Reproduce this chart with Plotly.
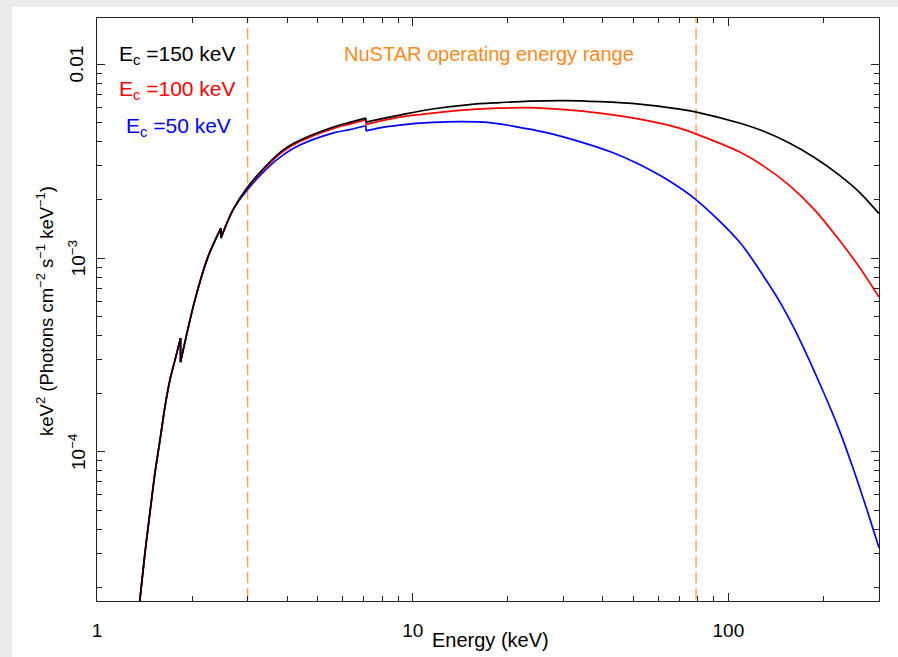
import math
import plotly.graph_objects as go

# ---------------- data ----------------
energy_low = [1.358, 1.419, 1.471, 1.526, 1.583, 1.641, 1.702, 1.766, 1.839, 1.839,
              2.042, 2.245, 2.469, 2.469, 2.694]
flux_low = [1.56e-5, 3.01e-5, 4.84e-5, 7.78e-5, 1.151e-4, 1.706e-4, 2.35e-4, 2.98e-4,
            3.87e-4, 2.91e-4, 6.08e-4, 1.014e-3, 1.432e-3, 1.271e-3, 1.774e-3]

energy_150 = [3.00, 3.451, 3.879, 4.390, 5.582, 6.32, 7.11, 7.11, 7.862, 9.095, 11.57, 15.15,
              18.85, 23.46, 30.27, 39.06, 52.29, 69.98, 79.2, 108.3, 130.0, 156.0, 187.2,
              224.5, 259.8, 300]
flux_150 = [2.33e-3, 3.03e-3, 3.62e-3, 4.07e-3, 4.75e-3, 5.03e-3, 5.29e-3, 5.05e-3, 5.23e-3,
            5.487e-3, 5.90e-3, 6.22e-3, 6.365e-3, 6.48e-3, 6.52e-3, 6.44e-3, 6.255e-3,
            5.89e-3, 5.685e-3, 4.99e-3, 4.51e-3, 3.933e-3, 3.311e-3, 2.689e-3, 2.197e-3,
            1.70e-3]

energy_100 = [3.00, 3.451, 3.879, 4.390, 5.582, 6.32, 7.11, 7.11, 7.862, 9.095, 11.57, 15.15,
              18.85, 23.46, 30.27, 39.06, 52.29, 69.98, 79.2, 108.3, 130.0, 156.0, 187.2,
              224.5, 259.8, 300]
flux_100 = [2.32e-3, 2.99e-3, 3.555e-3, 4.003e-3, 4.673e-3, 4.93e-3, 5.20e-3, 4.90e-3, 5.108e-3,
            5.358e-3, 5.617e-3, 5.857e-3, 5.962e-3, 5.998e-3, 5.857e-3, 5.617e-3, 5.231e-3,
            4.701e-3, 4.377e-3, 3.546e-3, 2.974e-3, 2.379e-3, 1.784e-3, 1.242e-3, 9.01e-4,
            6.3e-4]

energy_50 = [3.00, 3.451, 3.879, 4.390, 5.582, 6.32, 7.11, 7.11, 7.862, 9.095, 11.57, 14.39,
             17.52, 20.72, 26.56, 33.78, 42.96, 52.29, 64.27, 79.2, 108.3, 131.6, 146.9, 163.8,
             198.8, 224.5, 247.4, 272.8, 300]
flux_50 = [2.263e-3, 2.905e-3, 3.41e-3, 3.841e-3, 4.43e-3, 4.617e-3, 4.832e-3, 4.55e-3,
           4.717e-3, 4.873e-3, 5.03e-3, 5.078e-3, 5.018e-3, 4.814e-3, 4.456e-3, 4.003e-3,
           3.513e-3, 3.045e-3, 2.533e-3, 1.998e-3, 1.217e-3, 7.72e-4, 5.80e-4, 4.16e-4,
           2.088e-4, 1.297e-4, 8.39e-5, 5.21e-5, 3.2e-5]

nustar_range = [3, 79]
x_range = [1, 300]
y_range = [1.70e-5, 0.0174]

series_labels = ["E<sub>c</sub> =150 keV", "E<sub>c</sub> =100 keV", "E<sub>c</sub> =50 keV"]
series_colors = ["#000000", "#ff0000", "#0000ff"]

y_tickvals = [0.01, 1e-3, 1e-4]
y_ticktext = ["0.01", "10<sup>\u22123</sup>", "10<sup>\u22124</sup>"]
y_minor = [m * 10.0 ** k for k in (-5, -4, -3) for m in range(2, 10)]
x_tickvals = [1, 10, 100]
x_ticktext = ["1", "10", "100"]
x_minor = [m * 10.0 ** k for k in (0, 1, 2) for m in range(2, 10)]

FONT = "Liberation Sans, Arial, Helvetica, sans-serif"
ORANGE_TEXT = "#ff8a1c"
ORANGE_LINE = "#ffa04a"

fig = go.Figure()

for e in nustar_range:
    fig.add_trace(go.Scatter(x=[e, e], y=[1e-6, 1.0], mode="lines",
                             line=dict(color=ORANGE_LINE, width=1.4, dash="11px,5px"),
                             showlegend=False, hoverinfo="skip"))


def pieces(xs, ys):
    """split a curve at the absorption edges (repeated energies)"""
    out, cx, cy = [], [xs[0]], [ys[0]]
    for i in range(1, len(xs)):
        if xs[i] == xs[i - 1]:
            out.append((cx, cy))
            cx, cy = [xs[i]], [ys[i]]
        else:
            cx.append(xs[i])
            cy.append(ys[i])
    out.append((cx, cy))
    return out


for en, fl, col in [(energy_50, flux_50, series_colors[2]),
                    (energy_100, flux_100, series_colors[1]),
                    (energy_150, flux_150, series_colors[0])]:
    xs, ys = energy_low + en, flux_low + fl
    for cx, cy in pieces(xs, ys):
        fig.add_trace(go.Scatter(x=cx, y=cy, mode="lines",
                                 line=dict(color=col, width=1.7, shape="spline", smoothing=0.9),
                                 showlegend=False))
    for i in range(1, len(xs)):
        if xs[i] == xs[i - 1]:
            fig.add_trace(go.Scatter(x=[xs[i - 1], xs[i]], y=[ys[i - 1], ys[i]], mode="lines",
                                     line=dict(color=col, width=1.7), showlegend=False))

W, H = 898, 657
L, R, T, B = 97, 19, 18, 56
pw, ph = W - L - R, H - T - B


def px(xp):
    return (xp - L) / pw


def py(yp):
    return (H - B - yp) / ph


# outer grey border / white panel
fig.add_shape(type="rect", xref="paper", yref="paper", x0=px(12), x1=px(W + 5),
              y0=py(H + 5), y1=py(7), fillcolor="white", line=dict(width=0), layer="below")

axis_common = dict(type="log", showgrid=False, zeroline=False, showline=True,
                   linecolor="#222", linewidth=1, mirror="ticks", ticks="inside",
                   ticklen=8, tickcolor="#222", tickwidth=1,
                   tickfont=dict(family=FONT, size=19, color="black"))

fig.update_xaxes(range=[math.log10(x_range[0]), math.log10(x_range[1])],
                 tickvals=x_tickvals, ticktext=x_ticktext, ticklabelstandoff=12,
                 minor=dict(ticks="inside", ticklen=5, tickcolor="#222", tickwidth=1,
                            tickvals=x_minor, showgrid=False),
                 **axis_common)
fig.update_yaxes(range=[math.log10(y_range[0]), math.log10(y_range[1])],
                 tickvals=y_tickvals, ticktext=y_ticktext, showticklabels=False,
                 minor=dict(ticks="inside", ticklen=5, tickcolor="#222", tickwidth=1,
                            tickvals=y_minor, showgrid=False),
                 **axis_common)

# rotated y tick labels
for v, t in zip(y_tickvals, y_ticktext):
    fig.add_annotation(x=px(77), xref="paper", y=math.log10(v), yref="y", text=t,
                       textangle=-90, showarrow=False, xanchor="center", yanchor="middle",
                       font=dict(family=FONT, size=19, color="black"))

# text annotations
leg_y = [55, 90, 127]
leg_x = [117, 117, 124]
for lab, col, xx, yy in zip(series_labels, series_colors, leg_x, leg_y):
    fig.add_annotation(x=px(xx), y=py(yy), xref="paper", yref="paper", text=lab,
                       showarrow=False, xanchor="left", yanchor="middle",
                       font=dict(family=FONT, size=21, color=col))

fig.add_annotation(x=px(489), y=py(54), xref="paper", yref="paper",
                   text="NuSTAR operating energy range", showarrow=False,
                   xanchor="center", yanchor="middle",
                   font=dict(family=FONT, size=20, color=ORANGE_TEXT))

fig.add_annotation(x=px(490), y=py(640), xref="paper", yref="paper", text="Energy (keV)",
                   showarrow=False, xanchor="center", yanchor="middle",
                   font=dict(family=FONT, size=20, color="black"))

fig.add_annotation(x=px(45), y=py(311), xref="paper", yref="paper", textangle=-90,
                   text="keV<sup>2</sup> (Photons cm<sup>\u22122</sup> s<sup>\u22121</sup> keV<sup>\u22121</sup>)",
                   showarrow=False, xanchor="center", yanchor="middle",
                   font=dict(family=FONT, size=18.5, color="black"))

fig.update_layout(width=W, height=H, margin=dict(l=L, r=R, t=T, b=B, pad=0),
                  paper_bgcolor="#ebebeb", plot_bgcolor="white", showlegend=False)

fig.write_html("out.html")
